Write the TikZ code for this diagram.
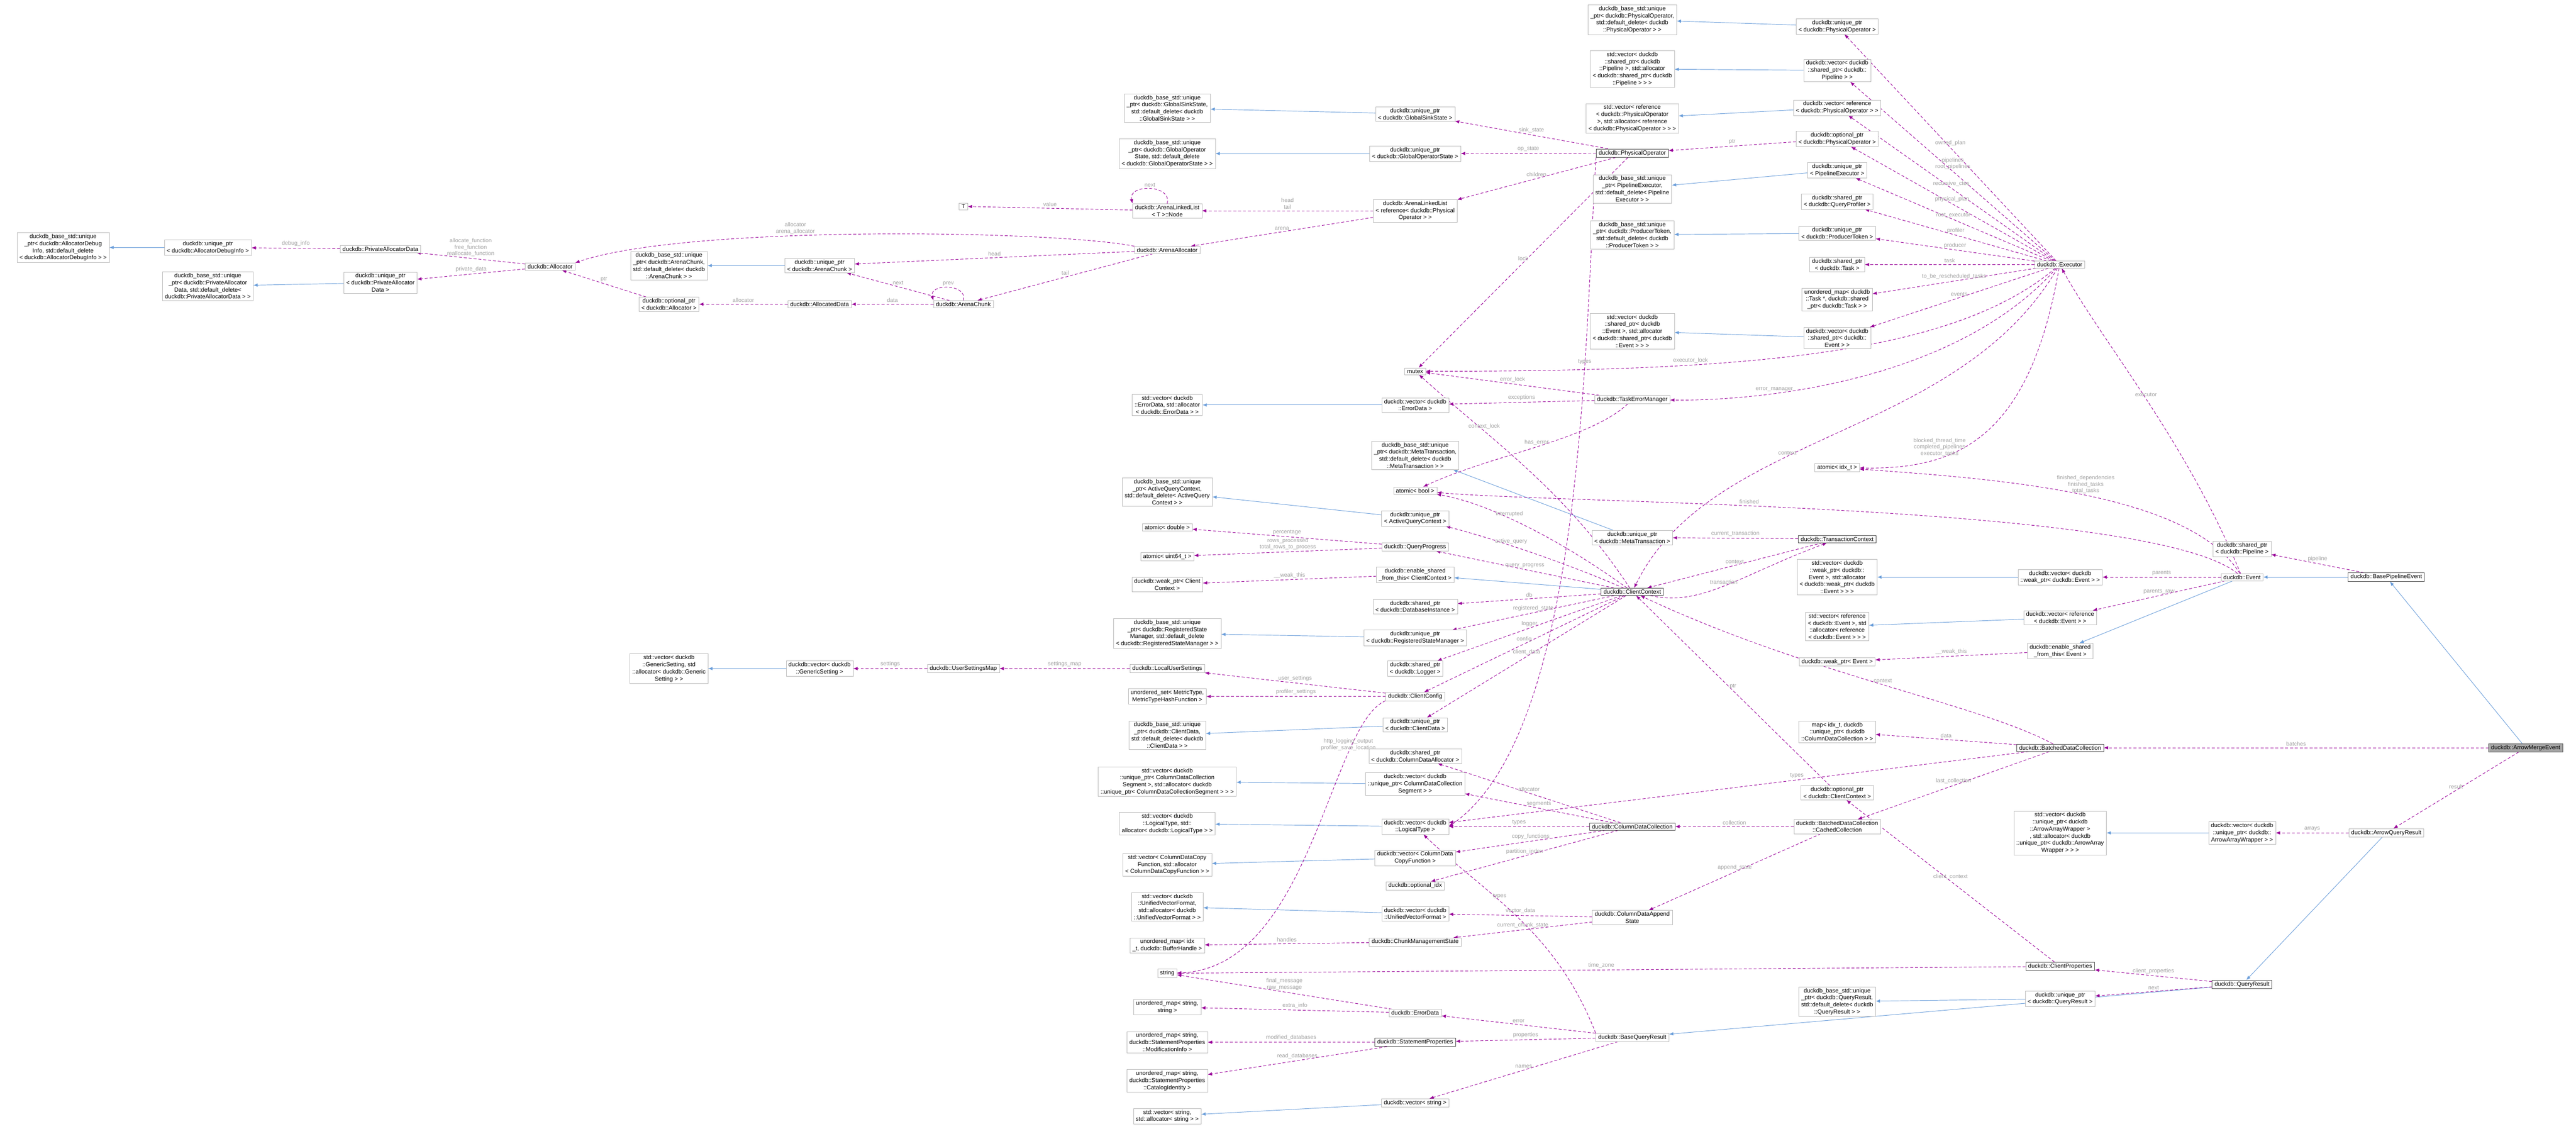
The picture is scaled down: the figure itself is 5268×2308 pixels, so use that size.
\documentclass[tikz,border=0pt]{standalone}
\usepackage{fontspec}
\setmainfont{Liberation Sans}
\usetikzlibrary{arrows.meta,backgrounds}
\tikzset{
  cls/.style={draw=gray!55,fill=white,align=center,inner xsep=5pt,inner ysep=3pt,
    font=\fontsize{12}{14.5}\selectfont},
  key/.style={cls,draw=black!70,thick},
  me/.style={cls,fill=gray!70,draw=black!70},
  member/.style={draw=violet!80!magenta,dash pattern=on 6pt off 4pt,line width=1pt,-{Latex[length=9pt,width=7pt]}},
  inherit/.style={draw=cyan!55!blue!60,line width=1pt,-{Latex[length=9pt,width=7pt]}},
  lbl/.style={text=gray!75,font=\fontsize{11.5}{13}\selectfont,align=center,midway,above}
}
\begin{document}
\begin{tikzpicture}[x=1pt,y=-1pt]
	\useasboundingbox (0,0) rectangle (5268,2308);
	% Allocator part
	\node[cls] (dbgBase) at (129,506) {duckdb\_base\_std::unique\\\_ptr< duckdb::AllocatorDebug\\Info, std::default\_delete\\< duckdb::AllocatorDebugInfo > >};
	\node[cls] (upDbg) at (425,506) {duckdb::unique\_ptr\\< duckdb::AllocatorDebugInfo >};
	\node[cls] (privData) at (778,509) {duckdb::PrivateAllocatorData};
	\node[cls] (allocator) at (1125,545) {duckdb::Allocator};
	\node[cls] (privBase) at (425,585) {duckdb\_base\_std::unique\\\_ptr< duckdb::PrivateAllocator\\Data, std::default\_delete<\\ duckdb::PrivateAllocatorData > >};
	\node[cls] (upPriv) at (778,578) {duckdb::unique\_ptr\\< duckdb::PrivateAllocator\\Data >};
	\node[cls] (chunkBase) at (1368,543) {duckdb\_base\_std::unique\\\_ptr< duckdb::ArenaChunk,\\ std::default\_delete< duckdb\\::ArenaChunk > >};
	\node[cls] (upChunk) at (1676,543) {duckdb::unique\_ptr\\< duckdb::ArenaChunk >};
	\node[cls] (optAlloc) at (1368,622) {duckdb::optional\_ptr\\< duckdb::Allocator >};
	\node[cls] (allocData) at (1676,622) {duckdb::AllocatedData};
	\node[cls] (arenaChunk) at (1970,622) {duckdb::ArenaChunk};
	\node[cls] (arenaAlloc) at (2387,511) {duckdb::ArenaAllocator};
	\node[cls] (T) at (1970,422) {T};
	\node[cls] (llNode) at (2387,431) {duckdb::ArenaLinkedList\\< T >::Node};
	\node[cls] (linkedList) at (2894,431) {duckdb::ArenaLinkedList\\< reference< duckdb::Physical\\Operator > >};
	% Physical operator part
	\node[cls] (gssBase) at (2387,221) {duckdb\_base\_std::unique\\\_ptr< duckdb::GlobalSinkState,\\ std::default\_delete< duckdb\\::GlobalSinkState > >};
	\node[cls] (upGss) at (2894,233) {duckdb::unique\_ptr\\< duckdb::GlobalSinkState >};
	\node[cls] (gosBase) at (2387,314) {duckdb\_base\_std::unique\\\_ptr< duckdb::GlobalOperator\\State, std::default\_delete\\< duckdb::GlobalOperatorState > >};
	\node[cls] (upGos) at (2894,314) {duckdb::unique\_ptr\\< duckdb::GlobalOperatorState >};
	\node[key] (physOp) at (3338,313) {duckdb::PhysicalOperator};
	\node[cls] (poBase) at (3338,40) {duckdb\_base\_std::unique\\\_ptr< duckdb::PhysicalOperator,\\ std::default\_delete< duckdb\\::PhysicalOperator > >};
	\node[cls] (pipeBase) at (3338,141) {std::vector< duckdb\\::shared\_ptr< duckdb\\::Pipeline >, std::allocator\\< duckdb::shared\_ptr< duckdb\\::Pipeline > > >};
	\node[cls] (refPOBase) at (3338,242) {std::vector< reference\\< duckdb::PhysicalOperator\\ >, std::allocator< reference\\< duckdb::PhysicalOperator > > >};
	\node[cls] (peBase) at (3338,386) {duckdb\_base\_std::unique\\\_ptr< PipelineExecutor,\\ std::default\_delete< Pipeline\\Executor > >};
	\node[cls] (ptBase) at (3338,480) {duckdb\_base\_std::unique\\\_ptr< duckdb::ProducerToken,\\ std::default\_delete< duckdb\\::ProducerToken > >};
	\node[cls] (eventBase) at (3338,677) {std::vector< duckdb\\::shared\_ptr< duckdb\\::Event >, std::allocator\\< duckdb::shared\_ptr< duckdb\\::Event > > >};
	\node[cls] (mutex) at (2894,759) {mutex};
	% Executor part
	\node[cls] (upPO) at (3757,54) {duckdb::unique\_ptr\\< duckdb::PhysicalOperator >};
	\node[cls] (vecPipe) at (3757,144) {duckdb::vector< duckdb\\::shared\_ptr< duckdb::\\Pipeline > >};
	\node[cls] (vecRefPO) at (3757,220) {duckdb::vector< reference\\< duckdb::PhysicalOperator > >};
	\node[cls] (optPO) at (3757,284) {duckdb::optional\_ptr\\< duckdb::PhysicalOperator >};
	\node[cls] (upPE) at (3757,348) {duckdb::unique\_ptr\\< PipelineExecutor >};
	\node[cls] (spProf) at (3757,412) {duckdb::shared\_ptr\\< duckdb::QueryProfiler >};
	\node[cls] (upPT) at (3757,477) {duckdb::unique\_ptr\\< duckdb::ProducerToken >};
	\node[cls] (spTask) at (3757,541) {duckdb::shared\_ptr\\< duckdb::Task >};
	\node[cls] (umTask) at (3757,612) {unordered\_map< duckdb\\::Task *, duckdb::shared\\\_ptr< duckdb::Task > >};
	\node[cls] (vecEvent) at (3757,691) {duckdb::vector< duckdb\\::shared\_ptr< duckdb::\\Event > >};
	\node[cls] (executor) at (4212,541) {duckdb::Executor};
	\node[cls] (atomicIdx) at (3757,956) {atomic< idx\_t >};
	\node[key] (txnCtx) at (3757,1102) {duckdb::TransactionContext};
	\node[cls] (spPipe) at (4585,1122) {duckdb::shared\_ptr\\< duckdb::Pipeline >};
	% Event part
	\node[cls] (wpEvBase) at (3757,1180) {std::vector< duckdb\\::weak\_ptr< duckdb::\\Event >, std::allocator\\< duckdb::weak\_ptr< duckdb\\::Event > > >};
	\node[cls] (vecWpEv) at (4213,1180) {duckdb::vector< duckdb\\::weak\_ptr< duckdb::Event > >};
	\node[cls] (event) at (4585,1180) {duckdb::Event};
	\node[key] (bpe) at (4880,1180) {duckdb::BasePipelineEvent};
	\node[cls] (refEvBase) at (3757,1281) {std::vector< reference\\< duckdb::Event >, std\\::allocator< reference\\< duckdb::Event > > >};
	\node[cls] (vecRefEv) at (4213,1263) {duckdb::vector< reference\\< duckdb::Event > >};
	\node[cls] (esft) at (4213,1331) {duckdb::enable\_shared\\\_from\_this< Event >};
	\node[cls] (wpEvent) at (3757,1353) {duckdb::weak\_ptr< Event >};
	\node[cls] (mapCDC) at (3757,1496) {map< idx\_t, duckdb\\::unique\_ptr< duckdb\\::ColumnDataCollection > >};
	\node[key] (bdc) at (4213,1529) {duckdb::BatchedDataCollection};
	\node[me] (ame) at (5165,1529) {duckdb::ArrowMergeEvent};
	\node[cls] (optCC) at (3757,1621) {duckdb::optional\_ptr\\< duckdb::ClientContext >};
	\node[cls] (cached) at (3757,1690) {duckdb::BatchedDataCollection\\::CachedCollection};
	\node[cls] (aawBase) at (4213,1703) {std::vector< duckdb\\::unique\_ptr< duckdb\\::ArrowArrayWrapper >\\, std::allocator< duckdb\\::unique\_ptr< duckdb::ArrowArray\\Wrapper > > >};
	\node[cls] (vecAaw) at (4585,1703) {duckdb::vector< duckdb\\::unique\_ptr< duckdb::\\ArrowArrayWrapper > >};
	\node[cls] (aqr) at (4880,1703) {duckdb::ArrowQueryResult};
	\node[key] (clientProps) at (4213,1976) {duckdb::ClientProperties};
	\node[key] (qr) at (4585,2013) {duckdb::QueryResult};
	\node[cls] (qrBase) at (3757,2048) {duckdb\_base\_std::unique\\\_ptr< duckdb::QueryResult,\\ std::default\_delete< duckdb\\::QueryResult > >};
	\node[cls] (upQR) at (4213,2042) {duckdb::unique\_ptr\\< duckdb::QueryResult >};
	% ClientContext part
	\node[cls] (errBase) at (2387,828) {std::vector< duckdb\\::ErrorData, std::allocator\\< duckdb::ErrorData > >};
	\node[cls] (vecErr) at (2894,828) {duckdb::vector< duckdb\\::ErrorData >};
	\node[cls] (tem) at (3338,817) {duckdb::TaskErrorManager};
	\node[cls] (mtBase) at (2894,931) {duckdb\_base\_std::unique\\\_ptr< duckdb::MetaTransaction,\\ std::default\_delete< duckdb\\::MetaTransaction > >};
	\node[cls] (aqcBase) at (2387,1006) {duckdb\_base\_std::unique\\\_ptr< ActiveQueryContext,\\ std::default\_delete< ActiveQuery\\Context > >};
	\node[cls] (atomicBool) at (2894,1003) {atomic< bool >};
	\node[cls] (upAqc) at (2894,1060) {duckdb::unique\_ptr\\< ActiveQueryContext >};
	\node[cls] (upMT) at (3338,1099) {duckdb::unique\_ptr\\< duckdb::MetaTransaction >};
	\node[cls] (atomicDbl) at (2387,1078) {atomic< double >};
	\node[cls] (qp) at (2894,1118) {duckdb::QueryProgress};
	\node[cls] (atomicU64) at (2387,1138) {atomic< uint64\_t >};
	\node[cls] (esftCC) at (2894,1175) {duckdb::enable\_shared\\\_from\_this< ClientContext >};
	\node[cls] (wpCC) at (2387,1195) {duckdb::weak\_ptr< Client\\Context >};
	\node[key] (cc) at (3338,1210) {duckdb::ClientContext};
	\node[cls] (spDB) at (2894,1240) {duckdb::shared\_ptr\\< duckdb::DatabaseInstance >};
	\node[cls] (rsmBase) at (2387,1295) {duckdb\_base\_std::unique\\\_ptr< duckdb::RegisteredState\\Manager, std::default\_delete\\< duckdb::RegisteredStateManager > >};
	\node[cls] (upRSM) at (2894,1304) {duckdb::unique\_ptr\\< duckdb::RegisteredStateManager >};
	\node[cls] (spLogger) at (2894,1367) {duckdb::shared\_ptr\\< duckdb::Logger >};
	\node[cls] (lus) at (2387,1367) {duckdb::LocalUserSettings};
	\node[cls] (usm) at (1970,1367) {duckdb::UserSettingsMap};
	\node[cls] (gsBase) at (1368,1367) {std::vector< duckdb\\::GenericSetting, std\\::allocator< duckdb::Generic\\Setting > >};
	\node[cls] (vecGS) at (1676,1367) {duckdb::vector< duckdb\\::GenericSetting >};
	\node[cls] (config) at (2894,1424) {duckdb::ClientConfig};
	\node[cls] (usMetric) at (2387,1424) {unordered\_set< MetricType,\\MetricTypeHashFunction >};
	\node[cls] (cdBase) at (2387,1503) {duckdb\_base\_std::unique\\\_ptr< duckdb::ClientData,\\ std::default\_delete< duckdb\\::ClientData > >};
	\node[cls] (upCD) at (2894,1482) {duckdb::unique\_ptr\\< duckdb::ClientData >};
	\node[cls] (spCDA) at (2894,1546) {duckdb::shared\_ptr\\< duckdb::ColumnDataAllocator >};
	% ColumnDataCollection part
	\node[cls] (segBase) at (2387,1598) {std::vector< duckdb\\::unique\_ptr< ColumnDataCollection\\Segment >, std::allocator< duckdb\\::unique\_ptr< ColumnDataCollectionSegment > > >};
	\node[cls] (vecSeg) at (2894,1603) {duckdb::vector< duckdb\\::unique\_ptr< ColumnDataCollection\\Segment > >};
	\node[cls] (ltBase) at (2387,1684) {std::vector< duckdb\\::LogicalType, std::\\allocator< duckdb::LogicalType > >};
	\node[cls] (vecLT) at (2894,1690) {duckdb::vector< duckdb\\::LogicalType >};
	\node[key] (cdcol) at (3338,1690) {duckdb::ColumnDataCollection};
	\node[cls] (cfBase) at (2387,1768) {std::vector< ColumnDataCopy\\Function, std::allocator\\< ColumnDataCopyFunction > >};
	\node[cls] (vecCF) at (2894,1754) {duckdb::vector< ColumnData\\CopyFunction >};
	\node[cls] (optIdx) at (2894,1811) {duckdb::optional\_idx};
	\node[cls] (uvfBase) at (2387,1854) {std::vector< duckdb\\::UnifiedVectorFormat,\\ std::allocator< duckdb\\::UnifiedVectorFormat > >};
	\node[cls] (vecUVF) at (2894,1868) {duckdb::vector< duckdb\\::UnifiedVectorFormat >};
	\node[cls] (cdas) at (3338,1876) {duckdb::ColumnDataAppend\\State};
	\node[cls] (umBH) at (2387,1933) {unordered\_map< idx\\\_t, duckdb::BufferHandle >};
	\node[cls] (cms) at (2894,1926) {duckdb::ChunkManagementState};
	\node[cls] (string) at (2387,1990) {string};
	\node[cls] (umSS) at (2387,2059) {unordered\_map< string,\\ string >};
	\node[cls] (errData) at (2894,2071) {duckdb::ErrorData};
	\node[cls] (umMod) at (2387,2131) {unordered\_map< string,\\ duckdb::StatementProperties\\::ModificationInfo >};
	\node[key] (sp) at (2894,2131) {duckdb::StatementProperties};
	\node[cls] (bqr) at (3338,2121) {duckdb::BaseQueryResult};
	\node[cls] (umCat) at (2387,2210) {unordered\_map< string,\\ duckdb::StatementProperties\\::CatalogIdentity >};
	\node[cls] (vecStr) at (2894,2255) {duckdb::vector< string >};
	\node[cls] (strBase) at (2387,2282) {std::vector< string,\\ std::allocator< string > >};

	\begin{scope}[on background layer]
	% Inheritance arrows
	\foreach \a/\b in {upDbg/dbgBase, upPriv/privBase, upChunk/chunkBase, upGss/gssBase, upGos/gosBase,
		upPO/poBase, vecPipe/pipeBase, vecRefPO/refPOBase, upPE/peBase, upPT/ptBase, vecEvent/eventBase,
		vecErr/errBase, upMT/mtBase, upAqc/aqcBase, cc/esftCC, upRSM/rsmBase, upCD/cdBase, vecGS/gsBase,
		vecSeg/segBase, vecLT/ltBase, vecCF/cfBase, vecUVF/uvfBase, vecStr/strBase, vecWpEv/wpEvBase,
		vecRefEv/refEvBase, event/esft, bpe/event, ame/bpe, vecAaw/aawBase, aqr/qr, qr/bqr, upQR/qrBase}
		\draw[inherit] (\a) -- (\b);

	% Allocator members
	\draw[member] (privData) -- node[lbl]{debug\_info} (upDbg);
	\draw[member] (allocator) -- node[lbl]{allocate\_function\\free\_function\\reallocate\_function} (privData);
	\draw[member] (allocator) -- node[lbl]{private\_data} (upPriv);
	\draw[member] (arenaAlloc.north west) .. controls (2150,470) and (1400,460) .. node[lbl,pos=.6]{allocator\\arena\_allocator} (allocator.north east);
	\draw[member] (optAlloc) -- node[lbl]{ptr} (allocator);
	\draw[member] (allocData) -- node[lbl]{allocator} (optAlloc);
	\draw[member] (arenaChunk) -- node[lbl]{data} (allocData);
	\draw[member] (arenaAlloc) -- node[lbl]{head} (upChunk);
	\draw[member] (arenaChunk) -- node[lbl]{next} (upChunk);
	\draw[member] (arenaAlloc) -- node[lbl]{tail} (arenaChunk);
	\draw[member] (arenaChunk.north) .. controls +(10,-35) and +(-10,-35) .. node[lbl]{prev} (arenaChunk.north west);
	\draw[member] (llNode.north) .. controls +(10,-40) and +(-10,-40) .. node[lbl]{next} (llNode.north west);
	\draw[member] (llNode) -- node[lbl]{value} (T);
	\draw[member] (linkedList) -- node[lbl]{head\\tail} (llNode);
	\draw[member] (linkedList) -- node[lbl]{arena} (arenaAlloc);
	% PhysicalOperator members
	\draw[member] (physOp) -- node[lbl]{sink\_state} (upGss);
	\draw[member] (physOp) -- node[lbl]{op\_state} (upGos);
	\draw[member] (physOp) -- node[lbl]{children} (linkedList);
	\draw[member] (physOp) -- node[lbl]{lock} (mutex);
	\draw[member] (physOp.south west) .. controls (3240,700) and (3240,1500) .. node[lbl,pos=.3]{types} (vecLT.east);
	\draw[member] (optPO) -- node[lbl]{ptr} (physOp);
	% Executor members
	\draw[member] (executor) -- node[lbl]{owned\_plan} (upPO);
	\draw[member] (executor) -- node[lbl]{pipelines\\root\_pipelines} (vecPipe);
	\draw[member] (executor) -- node[lbl]{recursive\_ctes} (vecRefPO);
	\draw[member] (executor) -- node[lbl]{physical\_plan} (optPO);
	\draw[member] (executor) -- node[lbl]{root\_executor} (upPE);
	\draw[member] (executor) -- node[lbl]{profiler} (spProf);
	\draw[member] (executor) -- node[lbl]{producer} (upPT);
	\draw[member] (executor) -- node[lbl]{task} (spTask);
	\draw[member] (executor) -- node[lbl]{to\_be\_rescheduled\_tasks} (umTask);
	\draw[member] (executor) -- node[lbl]{events} (vecEvent);
	\draw[member] (executor) .. controls (4000,720) and (3600,760) .. node[lbl,pos=.7]{executor\_lock} (mutex);
	\draw[member] (executor) .. controls (4000,780) and (3600,820) .. node[lbl,pos=.7]{error\_manager} (tem);
	\draw[member] (executor) .. controls (4000,900) and (3500,880) .. node[lbl,pos=.6]{context} (cc);
	\draw[member] (executor) .. controls (4150,900) and (4000,960) .. node[lbl,pos=.7]{blocked\_thread\_time\\completed\_pipelines\\executor\_tasks} (atomicIdx);
	% Event members
	\draw[member] (event) .. controls (4480,1010) and (4100,980) .. node[lbl,pos=.5]{finished\_dependencies\\finished\_tasks\\total\_tasks} (atomicIdx);
	\draw[member] (event) .. controls (4400,1030) and (3200,1030) .. node[lbl,pos=.6]{finished} (atomicBool);
	\draw[member] (event) .. controls (4470,900) and (4300,700) .. node[lbl,pos=.5]{executor} (executor);
	\draw[member] (bpe) -- node[lbl]{pipeline} (spPipe);
	\draw[member] (event) -- node[lbl]{parents} (vecWpEv);
	\draw[member] (event) -- node[lbl]{parents\_raw} (vecRefEv);
	\draw[member] (esft) -- node[lbl]{\_\_weak\_this} (wpEvent);
	% TaskErrorManager members
	\draw[member] (tem) -- node[lbl]{error\_lock} (mutex);
	\draw[member] (tem) -- node[lbl]{exceptions} (vecErr);
	\draw[member] (tem) .. controls (3250,900) and (3050,930) .. node[lbl]{has\_error} (atomicBool);
	% ClientContext members
	\draw[member] (cc) .. controls (3200,1000) and (3050,900) .. node[lbl,pos=.7]{context\_lock} (mutex);
	\draw[member] (cc) .. controls (3200,1110) and (3050,1030) .. node[lbl,pos=.6]{interrupted} (atomicBool);
	\draw[member] (cc) .. controls (3200,1150) and (3050,1100) .. node[lbl,pos=.6]{active\_query} (upAqc);
	\draw[member] (cc) -- node[lbl]{query\_progress} (qp);
	\draw[member] (cc) -- node[lbl]{db} (spDB);
	\draw[member] (cc) -- node[lbl]{registered\_state} (upRSM);
	\draw[member] (cc) -- node[lbl]{logger} (spLogger);
	\draw[member] (cc) -- node[lbl]{config} (config);
	\draw[member] (cc) -- node[lbl]{client\_data} (upCD);
	\draw[member] (cc) .. controls (3480,1240) and (3550,1180) .. node[lbl,pos=.5]{transaction} (txnCtx);
	\draw[member] (txnCtx) -- node[lbl]{current\_transaction} (upMT);
	\draw[member] (txnCtx) -- node[lbl]{context} (cc);
	\draw[member] (qp) -- node[lbl]{percentage} (atomicDbl);
	\draw[member] (qp) -- node[lbl]{rows\_processed\\total\_rows\_to\_process} (atomicU64);
	\draw[member] (esftCC) -- node[lbl]{\_\_weak\_this} (wpCC);
	\draw[member] (config) -- node[lbl]{user\_settings} (lus);
	\draw[member] (config) -- node[lbl]{profiler\_settings} (usMetric);
	\draw[member] (config.south west) .. controls (2720,1480) and (2680,1980) .. node[lbl,pos=.25]{http\_logging\_output\\profiler\_save\_location} (string);
	\draw[member] (lus) -- node[lbl]{settings\_map} (usm);
	\draw[member] (usm) -- node[lbl]{settings} (vecGS);
	% BatchedDataCollection members
	\draw[member] (optCC) -- node[lbl]{ptr} (cc);
	\draw[member] (bdc) .. controls (4050,1440) and (3700,1380) .. node[lbl,pos=.5]{context} (cc);
	\draw[member] (bdc) -- node[lbl]{data} (mapCDC);
	\draw[member] (bdc) -- node[lbl]{last\_collection} (cached);
	\draw[member] (bdc) -- node[lbl,pos=.4]{types} (vecLT);
	\draw[member] (cached) -- node[lbl]{collection} (cdcol);
	\draw[member] (cached) -- node[lbl]{append\_state} (cdas);
	% ColumnDataCollection members
	\draw[member] (cdcol) -- node[lbl]{allocator} (spCDA);
	\draw[member] (cdcol) -- node[lbl]{segments} (vecSeg);
	\draw[member] (cdcol) -- node[lbl]{types} (vecLT);
	\draw[member] (cdcol) -- node[lbl]{copy\_functions} (vecCF);
	\draw[member] (cdcol) -- node[lbl]{partition\_index} (optIdx);
	\draw[member] (cdas) -- node[lbl]{vector\_data} (vecUVF);
	\draw[member] (cdas) -- node[lbl]{current\_chunk\_state} (cms);
	\draw[member] (cms) -- node[lbl]{handles} (umBH);
	% Query result members
	\draw[member] (clientProps) -- node[lbl]{time\_zone} (string);
	\draw[member] (clientProps) -- node[lbl]{client\_context} (optCC);
	\draw[member] (errData) -- node[lbl]{final\_message\\raw\_message} (string);
	\draw[member] (errData) -- node[lbl]{extra\_info} (umSS);
	\draw[member] (bqr) -- node[lbl]{error} (errData);
	\draw[member] (bqr) -- node[lbl]{properties} (sp);
	\draw[member] (bqr) -- node[lbl]{names} (vecStr);
	\draw[member] (bqr.north west) .. controls (3180,1900) and (3040,1830) .. node[lbl,pos=.6]{types} (vecLT);
	\draw[member] (sp) -- node[lbl]{modified\_databases} (umMod);
	\draw[member] (sp) -- node[lbl]{read\_databases} (umCat);
	\draw[member] (qr) -- node[lbl]{client\_properties} (clientProps);
	\draw[member] (qr) -- node[lbl]{next} (upQR);
	\draw[member] (ame) -- node[lbl]{batches} (bdc);
	\draw[member] (ame) -- node[lbl]{result} (aqr);
	\draw[member] (aqr) -- node[lbl]{arrays} (vecAaw);
	\end{scope}
\end{tikzpicture}
\end{document}
